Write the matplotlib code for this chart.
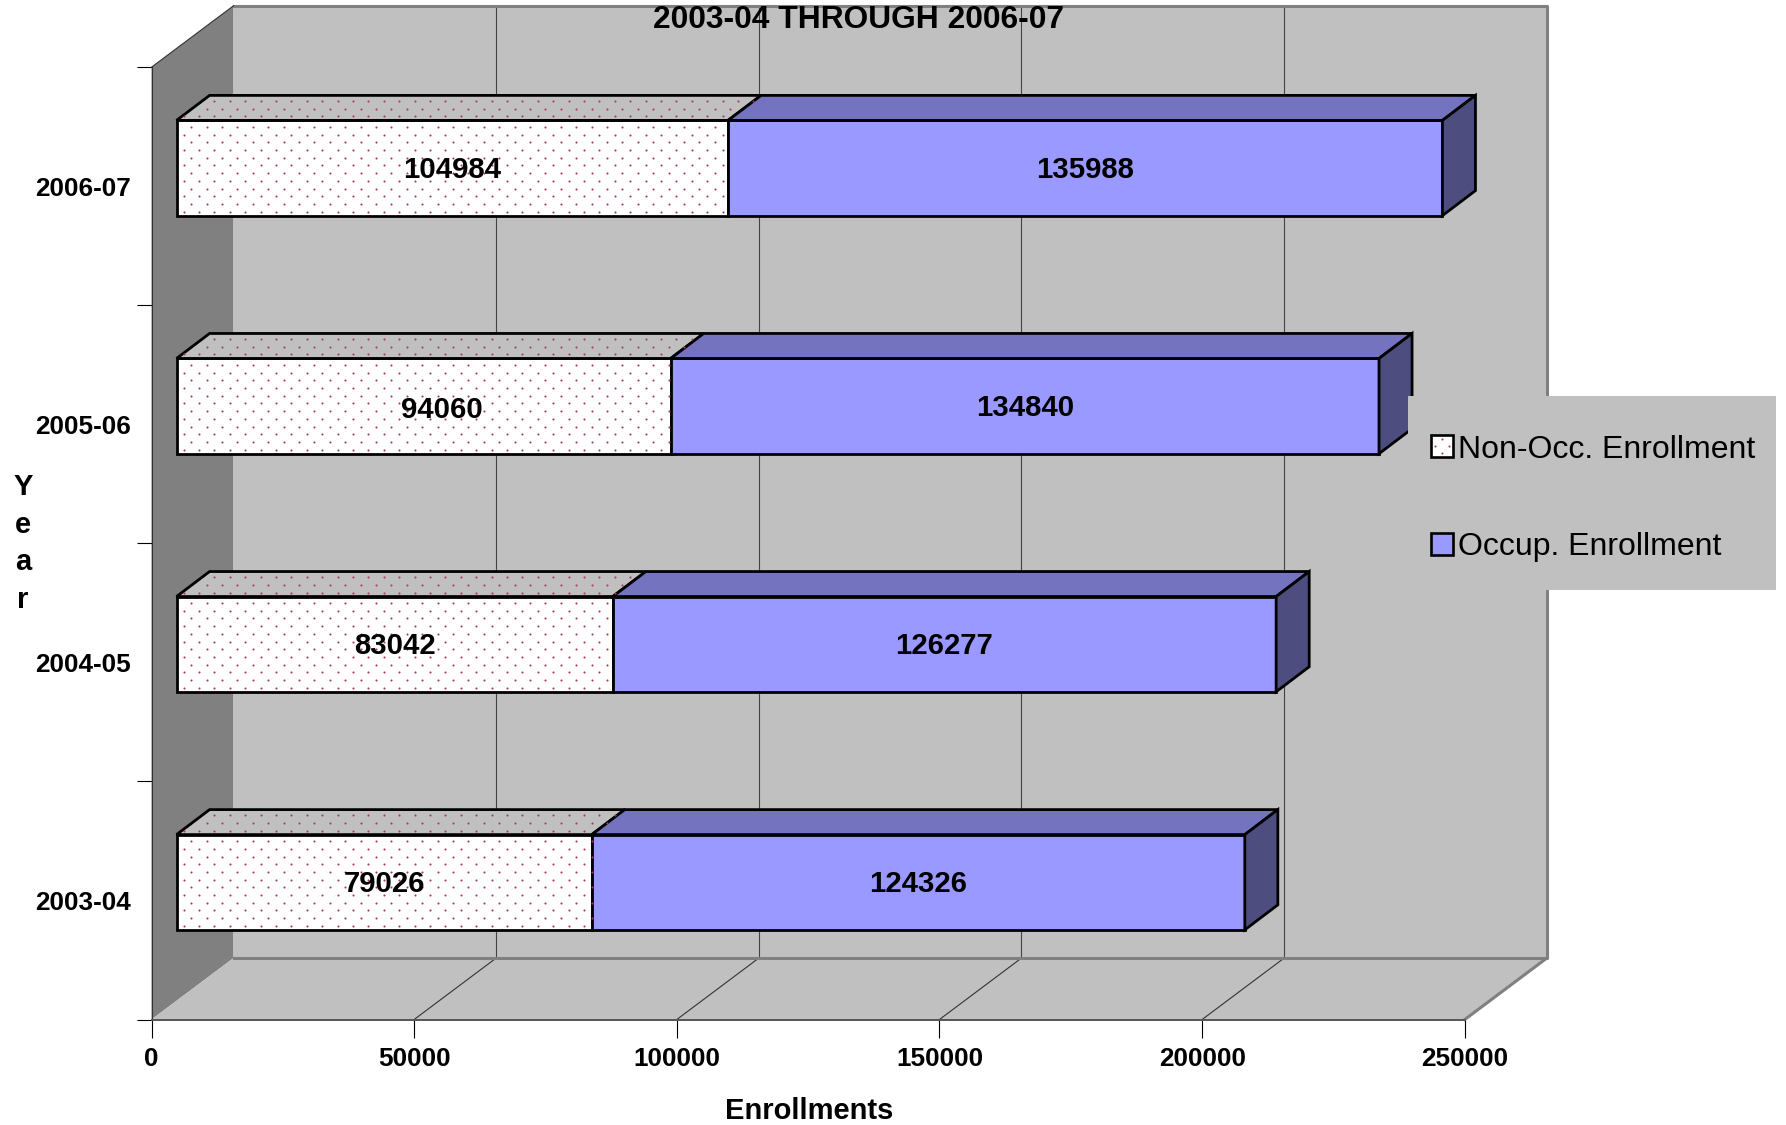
import numpy as np
import matplotlib
matplotlib.use('Agg')
import matplotlib.pyplot as plt
from matplotlib.patches import Patch, Polygon, Rectangle
from matplotlib.path import Path
from matplotlib.transforms import IdentityTransform

plt.rcParams['font.family'] = ['Liberation Sans', 'DejaVu Sans']

years = ['2003-04', '2004-05', '2005-06', '2006-07']
non_occ = [79026, 83042, 94060, 104984]
occ = [124326, 126277, 134840, 135988]
xticks = [0, 50000, 100000, 150000, 200000, 250000]

W, H = 1786, 1125
wall = '#C0C0C0'
side_wall = '#808080'
frame = '#808080'
blue = '#9999FF'
blue_top = '#7373BF'
blue_side = '#4D4D80'
dot_col = '#A8386C'

fig = plt.figure(figsize=(W/100, H/100), dpi=100)
ax = fig.add_axes([151.5/W, 1-1019.5/H, (1464.8-151.5)/W, (1019.5-67.2)/H])
ax.set_xlim(0, 250000)
ax.set_ylim(-0.5, 3.5)
ax.patch.set_visible(False)

# depth of the fake 3d box, in data units
DX, DY = 15611, 0.258
bar_x, bar_y = 4770, 0.0766   # front face of bar inside the box
bar_dx, bar_dy = 6288, 0.105  # depth of the bar
bar_h = 0.4


def poly(pts, **kw):
    kw.setdefault('clip_on', False)
    p = Polygon(pts, closed=True, **kw)
    ax.add_patch(p)
    return p


def dots(pts, z):
    # dotted fill, laid out in pixels and kept inside the face
    px = ax.transData.transform(pts)
    path = Path(px)
    xs, ys = [], []
    x0, x1 = px[:, 0].min(), px[:, 0].max()
    y0, y1 = px[:, 1].min(), px[:, 1].max()
    row = 0
    y = y0 + 4
    while y < y1:
        x = x0 + 7 + (row % 2) * 7.7
        while x < x1:
            if path.contains_point((x, y)):
                xs.append(x)
                ys.append(y)
            x += 15.4
        y += 7.7
        row += 1
    ax.plot(xs, ys, ls='none', marker='o', ms=1.5, mew=0, color=dot_col,
            transform=IdentityTransform(), clip_on=False, zorder=z)


# walls and floor
poly([(DX, -0.5+DY), (250000+DX, -0.5+DY), (250000+DX, 3.5+DY), (DX, 3.5+DY)],
     fc=wall, ec='none', zorder=1)
poly([(0, -0.5), (DX, -0.5+DY), (DX, 3.5+DY), (0, 3.5)], fc=side_wall, ec='none', zorder=1)
poly([(0, -0.5), (250000, -0.5), (250000+DX, -0.5+DY), (DX, -0.5+DY)],
     fc=wall, ec='none', zorder=1)

for v in xticks[1:-1]:
    ax.plot([v+DX, v+DX], [-0.5+DY, 3.5+DY], color='#444444', lw=0.8, clip_on=False, zorder=2)
    ax.plot([v, v+DX], [-0.5, -0.5+DY], color='#333333', lw=0.8, clip_on=False, zorder=2)

ax.plot([DX, 250000+DX, 250000+DX, DX], [-0.5+DY, -0.5+DY, 3.5+DY, 3.5+DY],
        color=frame, lw=2.2, clip_on=False, zorder=2)
ax.plot([250000+DX, 250000], [-0.5+DY, -0.5], color=frame, lw=2.2, clip_on=False, zorder=2)
ax.plot([0, DX], [3.5, 3.5+DY], color='#333333', lw=0.8, clip_on=False, zorder=2)

# bars
ypos = np.arange(len(years)) + bar_y
bar_lw = 2.0
ax.barh(ypos, non_occ, height=bar_h, left=bar_x, color='white', edgecolor='black',
        linewidth=bar_lw, zorder=3, clip_on=False)
ax.barh(ypos, occ, height=bar_h, left=np.array(non_occ)+bar_x, color=blue, edgecolor='black',
        linewidth=bar_lw, zorder=3, clip_on=False)

for y, a, b in zip(ypos, non_occ, occ):
    t = y + bar_h/2
    l0, l1, l2 = bar_x, bar_x+a, bar_x+a+b
    top0 = [(l0, t), (l1, t), (l1+bar_dx, t+bar_dy), (l0+bar_dx, t+bar_dy)]
    top1 = [(l1, t), (l2, t), (l2+bar_dx, t+bar_dy), (l1+bar_dx, t+bar_dy)]
    side = [(l2, t-bar_h), (l2+bar_dx, t-bar_h+bar_dy), (l2+bar_dx, t+bar_dy), (l2, t)]
    poly(top0, fc=wall, ec='black', lw=bar_lw, zorder=3)
    poly(top1, fc=blue_top, ec='black', lw=bar_lw, zorder=3)
    poly(side, fc=blue_side, ec='black', lw=bar_lw, zorder=3)
    dots(top0, 3.2)
    dots([(l0, t), (l1, t), (l1, t-bar_h), (l0, t-bar_h)], 3.2)

# value labels, 94060 sits off centre in the original
for i, (y, a, b) in enumerate(zip(ypos, non_occ, occ)):
    shift, lift = (16/1153*250000, -0.007) if i == 2 else (0, 0)
    ax.text(bar_x+a/2+shift, y+lift-0.009, str(a), ha='center', va='center', fontsize=21.2,
            fontweight='bold', zorder=4)
    ax.text(bar_x+a+b/2, y-0.009, str(b), ha='center', va='center', fontsize=21.2,
            fontweight='bold', zorder=4)

# axes
for s in ['top', 'right']:
    ax.spines[s].set_visible(False)
ax.spines['left'].set_color('#333333')
ax.spines['left'].set_linewidth(0.8)
ax.spines['left'].set_zorder(2.5)
ax.spines['bottom'].set_color('#555555')
ax.spines['bottom'].set_linewidth(1.4)
ax.spines['bottom'].set_zorder(2.5)
ax.set_xticks(xticks)
ax.set_xticklabels([str(v) for v in xticks], fontsize=18.8, fontweight='bold')
ax.tick_params(axis='x', length=13, width=0.8, pad=7)
ax.set_yticks(np.arange(-0.5, 4, 1))
ax.set_yticklabels([])
ax.tick_params(axis='y', which='major', length=11, width=0.8)
ax.set_yticks(np.arange(len(years)), minor=True)
ax.set_yticklabels(years, minor=True, fontsize=18.8, fontweight='bold')
ax.tick_params(axis='y', which='minor', length=0, pad=14.5)

ax.set_xlabel('Enrollments', fontsize=21, fontweight='bold')
ax.xaxis.set_label_coords((710-133)/1153, -(975-895)/836, transform=ax.transAxes)
ax.xaxis.label.set_va('center')
ax.set_ylabel('Y\ne\na\nr', fontsize=21, fontweight='bold', rotation=0, linespacing=1.43,
              ha='center', va='center')
ax.yaxis.set_label_coords((20-133)/1153, 0.5, transform=ax.transAxes)

fig.text(754/1568, 1-18/988, '2003-04 THROUGH 2006-07', fontsize=22.9, fontweight='bold',
         ha='center', va='center', zorder=10)

# legend
ax.add_patch(Rectangle((1408/W, 1-590/H), (1776-1408)/W, (590-396)/H, transform=fig.transFigure,
                       fc=wall, ec='none', clip_on=False, zorder=5))
handles = [Patch(fc='white', ec='black', lw=1.9), Patch(fc=blue, ec='black', lw=1.9)]
leg = ax.legend(handles, ['Non-Occ. Enrollment', 'Occup. Enrollment'], frameon=False, fontsize=23,
                handlelength=0.68, handleheight=0.68, handletextpad=0.17, labelspacing=2.12,
                loc='upper left', bbox_to_anchor=(1431/W, 1-434.5/H), bbox_transform=fig.transFigure,
                borderaxespad=0, borderpad=0)
leg.set_zorder(6)

fig.canvas.draw()
bb = leg.legend_handles[0].get_window_extent()
lx = [bb.x0+4, bb.x1-4, (bb.x0+bb.x1)/2, (bb.x0+bb.x1)/2]
ly = [(bb.y0+bb.y1)/2]*2 + [bb.y0+4, bb.y1-4]
ax.plot(lx, ly, ls='none', marker='o', ms=1.5, mew=0, color=dot_col,
        transform=IdentityTransform(), clip_on=False, zorder=7)

fig.savefig('out.png', dpi=100)
